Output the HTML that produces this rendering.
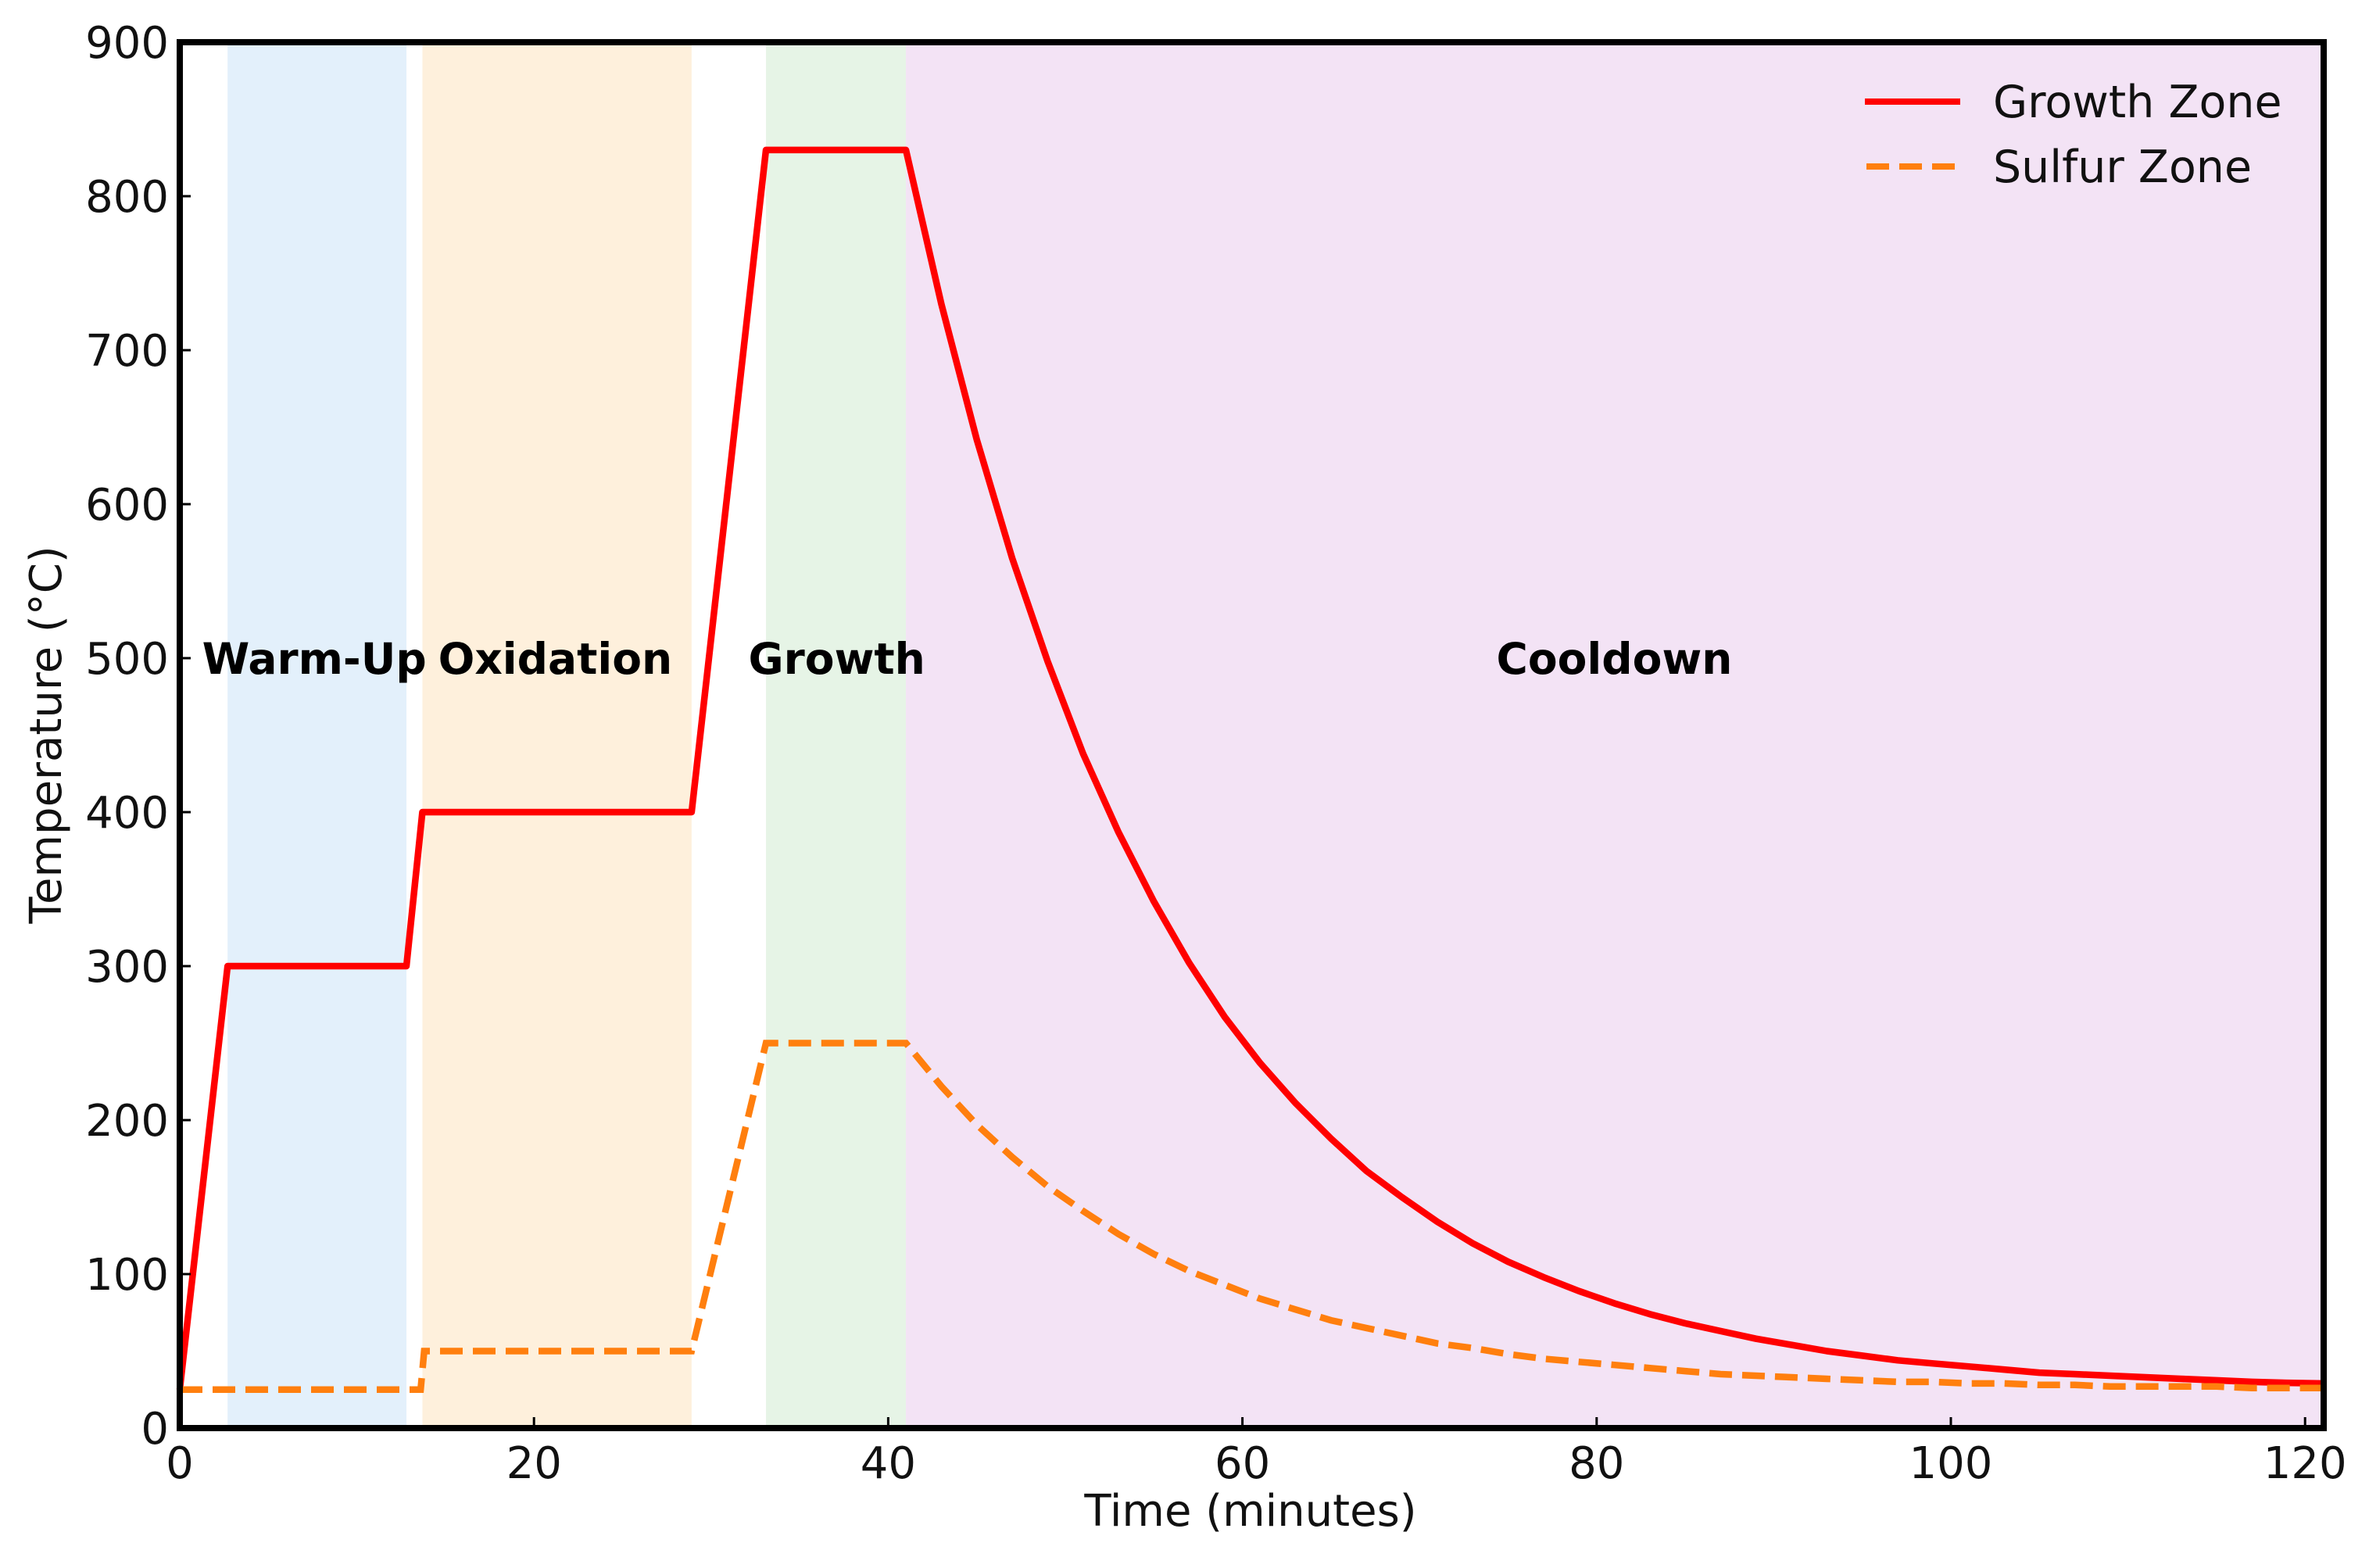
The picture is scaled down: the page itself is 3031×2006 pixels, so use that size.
<!DOCTYPE html>
<html><head><meta charset="utf-8"><style>
html,body{margin:0;padding:0;background:#fff;}
svg{display:block;font-family:"DejaVu Sans","Liberation Sans",sans-serif;}
</style></head><body>
<svg id="chart" width="3031" height="2006" viewBox="0 0 3031 2006" xmlns="http://www.w3.org/2000/svg">
<g id="bands"></g>
<g id="phaselabels"></g>
<g id="lines"></g>
<g id="axes"></g>
<g id="legend">
  <line x1="2386" y1="130" x2="2508" y2="130" stroke="#ff0000" stroke-width="8"/>
  <text x="2550" y="150" font-size="57" fill="#111">Growth Zone</text>
  <line x1="2388" y1="213" x2="2508" y2="213" stroke="#ff7f0e" stroke-width="8" stroke-dasharray="29,13"/>
  <text x="2550" y="233" font-size="57" fill="#111">Sulfur Zone</text>
</g>
<text x="1600" y="1952" font-size="56" text-anchor="middle" fill="#111">Time (minutes)</text>
<text x="0" y="0" font-size="56" text-anchor="middle" fill="#111" transform="translate(78,940) rotate(-90)">Temperature (°C)</text>
</svg>
<script>
const growthT = [0, 2.7, 12.8, 13.7, 28.9, 33.1, 41, 43, 45, 47, 49, 51, 53, 55, 57, 59, 61, 63, 65, 67, 69, 71, 73, 75, 77, 79, 81, 83, 85, 87, 89, 91, 93, 95, 97, 99, 101, 103, 105, 107, 109, 111, 113, 115, 117, 119, 121];
const growthV = [25, 300, 300, 400, 400, 830, 830, 730, 642, 565, 498, 438, 387, 342, 302, 267, 237, 211, 188, 167, 150, 134, 120, 108, 98, 89, 81, 74, 68, 63, 58, 54, 50, 47, 44, 42, 40, 38, 36, 35, 34, 33, 32, 31, 30, 29.4, 29];
const sulfurT = [0, 13.6, 13.8, 28.9, 33.1, 41, 43, 45, 47, 49, 51, 53, 55, 57, 59, 61, 63, 65, 67, 69, 71, 73, 75, 77, 79, 81, 83, 85, 87, 89, 91, 93, 95, 97, 99, 101, 103, 105, 107, 109, 111, 113, 115, 117, 119, 121];
const sulfurV = [25, 25, 50, 50, 250, 250, 222, 197, 176, 157, 141, 126, 113, 102, 93, 84, 77, 70, 65, 60, 55, 52, 48, 45, 43, 41, 39, 37, 35, 34, 33, 32, 31, 30, 30, 29, 29, 28, 28, 27, 27, 27, 27, 26, 26, 26];
const phaseNames = ["Warm-Up", "Oxidation", "Growth", "Cooldown"];
const phaseStart = [2.7, 13.7, 33.1, 41];
const phaseEnd = [12.8, 28.9, 41, 121];
const phaseColors = ["#e3f0fb", "#fef0dc", "#e6f4e6", "#f3e3f5"];
const phaseLabelX = [7.6, 21.2, 37.1, 81];
const xTicks = [0, 20, 40, 60, 80, 100, 120];
const yTicks = [0, 100, 200, 300, 400, 500, 600, 700, 800, 900];

const L = 230, R = 2973, T = 54, B = 1827, XMAX = 121.05, YMAX = 900;
const NS = "http://www.w3.org/2000/svg";
function sx(t){ return L + (t / XMAX) * (R - L); }
function sy(v){ return B - (v / YMAX) * (B - T); }
function mk(tag, attrs, parent){ const e = document.createElementNS(NS, tag); for (const k in attrs) e.setAttribute(k, attrs[k]); parent.appendChild(e); return e; }

const bands = document.getElementById('bands');
const pl = document.getElementById('phaselabels');
phaseNames.forEach((n, i) => {
  const r = mk('rect', {x: sx(phaseStart[i]), y: T, width: sx(phaseEnd[i]) - sx(phaseStart[i]), height: B - T, fill: phaseColors[i]}, bands);
  
  
  const t = mk('text', {x: sx(phaseLabelX[i]), y: sy(500) + 20, 'font-size': 55, 'font-weight': 'bold', 'text-anchor': 'middle', fill: '#000'}, pl);
  t.textContent = n;
  
  
});

const lines = document.getElementById('lines');
function pts(ts, vs){ return ts.map((t, i) => sx(t).toFixed(1) + ',' + sy(vs[i]).toFixed(1)).join(' '); }
const gl = mk('polyline', {points: pts(growthT, growthV), fill: 'none', stroke: '#ff0000', 'stroke-width': 8.5, 'stroke-linejoin': 'round'}, lines);


const sl = mk('polyline', {points: pts(sulfurT, sulfurV), fill: 'none', stroke: '#ff7f0e', 'stroke-width': 8.5, 'stroke-dasharray': '29,13'}, lines);



const axes = document.getElementById('axes');
const fr = mk('rect', {x: L, y: T, width: R - L, height: B - T, fill: 'none', stroke: '#000', 'stroke-width': 8}, axes);


xTicks.forEach(v => {
  const x = sx(v);
  const tk = mk('line', {x1: x, y1: B, x2: x, y2: B - 14, stroke: '#000', 'stroke-width': 3}, axes);
  
  
  const t = mk('text', {x: x, y: B + 64, 'font-size': 56, 'text-anchor': 'middle', fill: '#111'}, axes);
  t.textContent = v;
  
  
});
yTicks.forEach(v => {
  const y = sy(v);
  const tk = mk('line', {x1: L, y1: y, x2: L + 14, y2: y, stroke: '#000', 'stroke-width': 3}, axes);
  
  
  const t = mk('text', {x: L - 14, y: y + 20, 'font-size': 56, 'text-anchor': 'end', fill: '#111'}, axes);
  t.textContent = v;
  
  
});
</script>
</body></html>
